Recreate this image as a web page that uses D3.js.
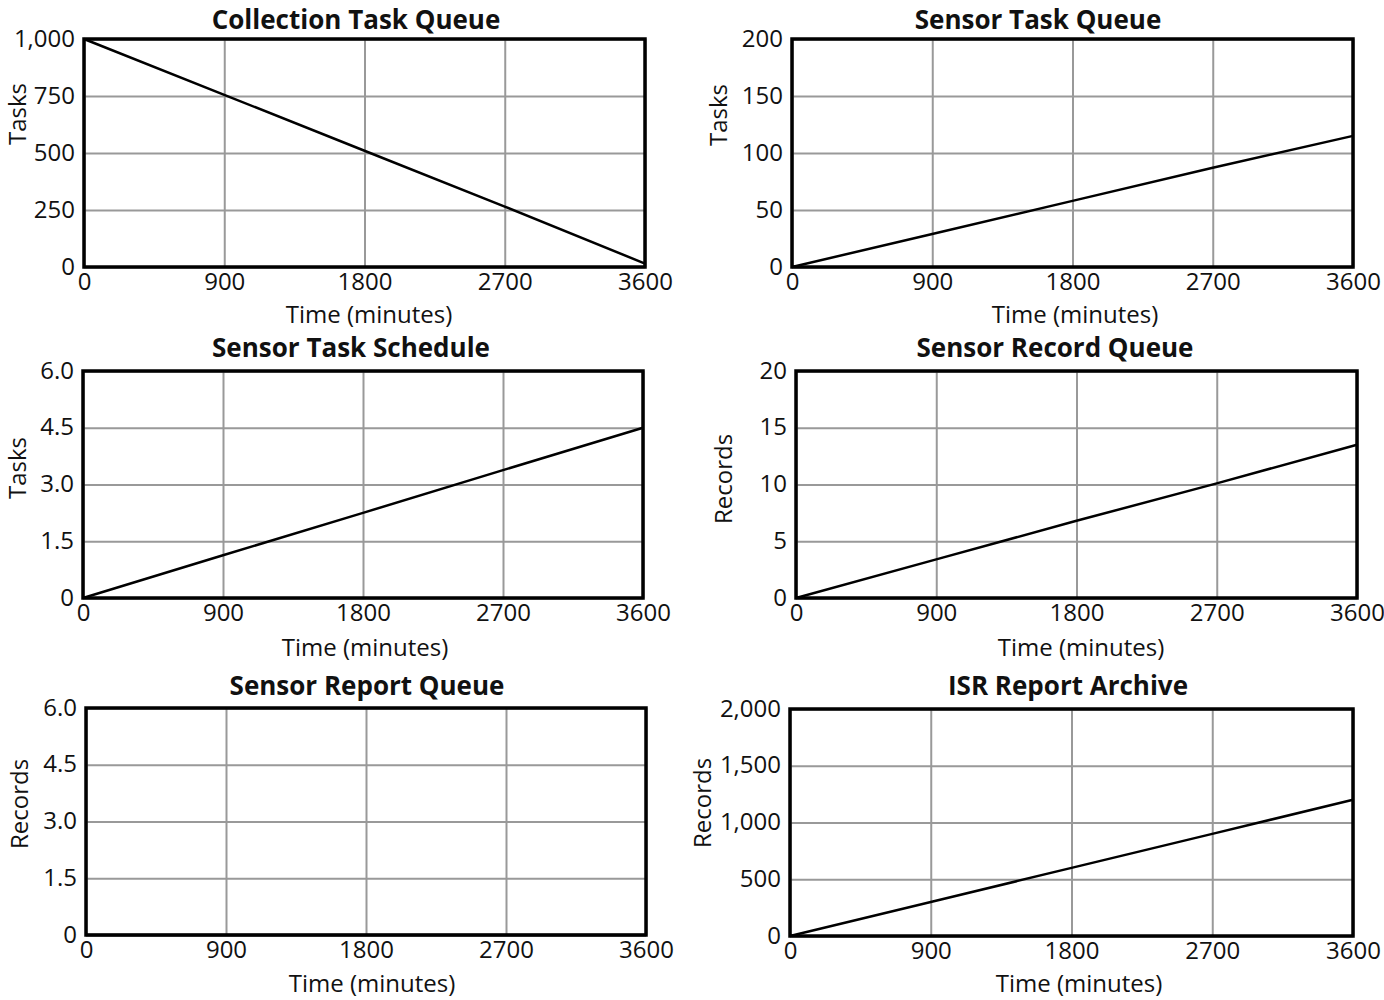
<!DOCTYPE html>
<html>
<head>
<meta charset="utf-8">
<script src="https://cdn.jsdelivr.net/npm/d3@7"></script>
<style>
  body { margin: 0; background: #fff; }
  svg { display: block; font-family: "Open Sans", sans-serif; }
</style>
</head>
<body>
<svg id="chart" width="1384" height="1000"></svg>
<script>
// shared x axis (minutes)
const times = [0, 900, 1800, 2700, 3600]
const timeTickLabels = ["0", "900", "1800", "2700", "3600"]

// chart titles and y axis labels
const titles = ["Collection Task Queue", "Sensor Task Queue", "Sensor Task Schedule",
    "Sensor Record Queue", "Sensor Report Queue", "ISR Report Archive"]
const yLabels = ["Tasks", "Tasks", "Tasks", "Records", "Records", "Records"]

// y tick values and their printed labels
const yTicks = [
    [0, 250, 500, 750, 1000],
    [0, 50, 100, 150, 200],
    [0, 1.5, 3, 4.5, 6],
    [0, 5, 10, 15, 20],
    [0, 1.5, 3, 4.5, 6],
    [0, 500, 1000, 1500, 2000],
]
const yTickLabels = [
    ["0", "250", "500", "750", "1,000"],
    ["0", "50", "100", "150", "200"],
    ["0", "1.5", "3.0", "4.5", "6.0"],
    ["0", "5", "10", "15", "20"],
    ["0", "1.5", "3.0", "4.5", "6.0"],
    ["0", "500", "1,000", "1,500", "2,000"],
]

// series values at each time in `times`
const collectionTaskQueue = [1000, 755, 510, 265, 15]
const sensorTaskQueue = [0, 29, 58, 87, 115]
const sensorTaskSchedule = [0, 1.13, 2.25, 3.38, 4.5]
const sensorRecordQueue = [0, 3.4, 6.8, 10.1, 13.5]
const sensorReportQueue = [0, 0, 0, 0, 0]
const isrReportArchive = [0, 300, 600, 900, 1200]

const series = [collectionTaskQueue, sensorTaskQueue, sensorTaskSchedule,
    sensorRecordQueue, sensorReportQueue, isrReportArchive]

// panel boxes [left, top, right, bottom], title pos, y-label baseline pos, x-label pos
const panels = [
    {box: [84, 39, 645, 267], titleX: 356, titleY: 20, yLab: [26, 114], xLabX: 369, xLabY: 315},
    {box: [792, 39, 1353, 267], titleX: 1038, titleY: 20, yLab: [727, 115], xLabX: 1075, xLabY: 315},
    {box: [83, 371, 643, 598], titleX: 351, titleY: 348, yLab: [26, 468], xLabX: 365, xLabY: 648},
    {box: [796, 371, 1357, 598], titleX: 1055, titleY: 348, yLab: [732, 479], xLabX: 1081, xLabY: 648},
    {box: [86, 708, 646, 935], titleX: 367, titleY: 686, yLab: [28, 804], xLabX: 372, xLabY: 984},
    {box: [790, 709, 1353, 936], titleX: 1068, titleY: 686, yLab: [711, 803], xLabX: 1079, xLabY: 984},
]

const tickFont = 24
const svg = d3.select("#chart")

panels.forEach((p, i) => {
    const [x0, y0, x1, y1] = p.box
    const xScale = d3.scaleLinear([0, 3600], [x0, x1])
    const yScale = d3.scaleLinear([0, d3.max(yTicks[i])], [y1, y0])
    const g = svg.append("g")

    // grid
    g.append("g")
        .attr("transform", `translate(0, ${y1})`)
        .call(d3.axisBottom(xScale).tickValues(times).tickSize(-(y1 - y0)).tickFormat(""))
        .call(a => a.select(".domain").remove())
        .call(a => a.selectAll("line").attr("stroke", "#999").attr("stroke-width", 2))

    g.append("g")
        .attr("transform", `translate(${x0}, 0)`)
        .call(d3.axisLeft(yScale).tickValues(yTicks[i]).tickSize(-(x1 - x0)).tickFormat(""))
        .call(a => a.select(".domain").remove())
        .call(a => a.selectAll("line").attr("stroke", "#999").attr("stroke-width", 2))

    // tick labels
    g.append("g")
        .attr("transform", `translate(0, ${y1})`)
        .call(d3.axisBottom(xScale).tickValues(times).tickSize(0).tickPadding(6)
            .tickFormat((d, j) => timeTickLabels[j]))
        .call(a => a.select(".domain").remove())
        .call(a => a.selectAll("text").attr("font-size", tickFont).attr("fill", "#111")
            .attr("font-family", "'Open Sans', sans-serif"))

    g.append("g")
        .attr("transform", `translate(${x0}, 0)`)
        .call(d3.axisLeft(yScale).tickValues(yTicks[i]).tickSize(0).tickPadding(9)
            .tickFormat((d, j) => yTickLabels[i][j]))
        .call(a => a.select(".domain").remove())
        .call(a => a.selectAll("text").attr("font-size", tickFont).attr("fill", "#111")
            .attr("font-family", "'Open Sans', sans-serif").attr("dy", "0.3em"))

    // series line
    const line = d3.line()
        .x((d, j) => xScale(times[j]))
        .y(d => yScale(d))
    g.append("path")
        .datum(series[i])
        .attr("d", line)
        .attr("fill", "none")
        .attr("stroke", "#000")
        .attr("stroke-width", 2.5)

    // frame
    g.append("rect")
        .attr("x", x0).attr("y", y0)
        .attr("width", x1 - x0).attr("height", y1 - y0)
        .attr("fill", "none")
        .attr("stroke", "#000")
        .attr("stroke-width", 3.5)

    // titles
    g.append("text")
        .attr("x", p.titleX).attr("y", p.titleY)
        .attr("dy", "0.35em")
        .attr("text-anchor", "middle")
        .attr("font-size", 26)
        .attr("font-weight", "bold")
        .attr("fill", "#111")
        .text(titles[i])

    // baseline sits at yLab[0] so the glyph box stays on the page
    g.append("text")
        .attr("transform", `translate(${p.yLab[0]}, ${p.yLab[1]}) rotate(-90)`)
        .attr("text-anchor", "middle")
        .attr("font-size", 24)
        .attr("fill", "#111")
        .text(yLabels[i])

    g.append("text")
        .attr("x", p.xLabX).attr("y", p.xLabY)
        .attr("dy", "0.35em")
        .attr("text-anchor", "middle")
        .attr("font-size", 24)
        .attr("fill", "#111")
        .text("Time (minutes)")
})
</script>
</body>
</html>
